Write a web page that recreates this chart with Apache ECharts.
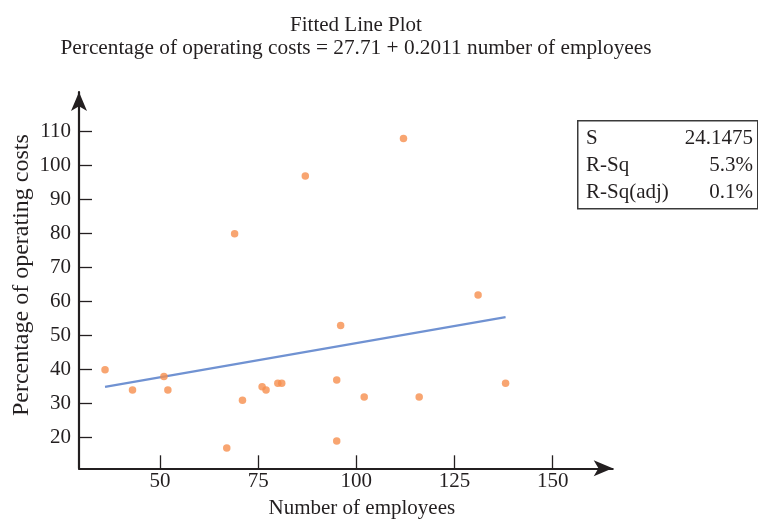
<!DOCTYPE html>
<html>
<head>
<meta charset="utf-8">
<script src="https://cdn.jsdelivr.net/npm/echarts@6/dist/echarts.min.js"></script>
<style>html,body{margin:0;padding:0;background:#fff}#c{width:758px;height:521px}</style>
</head>
<body>
<div id="c"></div>
<script>
// Data
const employees = [36, 43, 51, 52, 67, 71, 76, 77, 80, 81, 95, 95, 96, 102, 69, 87, 112, 131, 116, 138];
const operatingCosts = [40, 34, 38, 34, 17, 31, 35, 34, 36, 36, 37, 19, 53, 32, 80, 97, 108, 62, 32, 36];
const fitX = [36, 138];
const fitY = [34.95, 55.46];
const xTicks = [50, 75, 100, 125, 150];
const yTicks = [20, 30, 40, 50, 60, 70, 80, 90, 100, 110];
const statLabels = ['S', 'R-Sq', 'R-Sq(adj)'];
const statValues = ['24.1475', '5.3%', '0.1%'];
const titleText = 'Fitted Line Plot';
const subtitleText = 'Percentage of operating costs = 27.71 + 0.2011 number of employees';

const FONT = '"Liberation Serif", "Times New Roman", serif';
const INK = '#231f20';

const points = employees.map((x, i) => [x, operatingCosts[i]]);
const fitLine = fitX.map((x, i) => [x, fitY[i]]);

const chart = echarts.init(document.getElementById('c'), null, {renderer: 'canvas'});

const statGraphics = [{
  type: 'rect', left: 577, top: 120,
  shape: {width: 180, height: 88},
  style: {fill: '#fff', stroke: '#3a3a3a', lineWidth: 1.5}
}];
statLabels.forEach((t, i) => {
  statGraphics.push({type: 'text', left: 586, top: 128 + i * 27,
    style: {text: t, font: '21px ' + FONT, fill: INK}});
  statGraphics.push({type: 'text', right: 5, top: 128 + i * 27,
    style: {text: statValues[i], font: '21px ' + FONT, fill: INK, align: 'right'}});
});

chart.setOption({
  animation: false,
  backgroundColor: '#fff',
  title: [
    {text: titleText, left: 351, top: 10, textAlign: 'center',
     textStyle: {fontFamily: FONT, fontSize: 21, fontWeight: 'normal', color: INK}},
    {text: subtitleText, left: 351, top: 33, textAlign: 'center',
     textStyle: {fontFamily: FONT, fontSize: 21.3, fontWeight: 'normal', color: INK}}
  ],
  grid: {left: 79, right: 145.3, top: 92, bottom: 52.7, containLabel: false, outerBoundsMode: 'none'},
  xAxis: {
    type: 'value', min: 29.37, max: 165.28,
    name: 'Number of employees', nameLocation: 'middle', nameGap: 30, nameMoveOverlap: false,
    nameTextStyle: {fontFamily: FONT, fontSize: 21, color: INK, padding: [0, 0, 0, 32]},
    axisLine: {show: true, onZero: false, symbol: ['none', 'arrow'], symbolSize: [12, 19],
      lineStyle: {color: INK, width: 2.2}},
    axisTick: {show: true, inside: true, length: 13, customValues: xTicks,
      lineStyle: {color: INK, width: 1.3}},
    axisLabel: {customValues: xTicks, margin: 3, fontFamily: FONT, fontSize: 21, color: INK},
    splitLine: {show: false}
  },
  yAxis: {
    type: 'value', min: 11.0, max: 121.68,
    name: 'Percentage of operating costs', nameLocation: 'middle', nameGap: 45, nameMoveOverlap: false,
    nameTextStyle: {fontFamily: FONT, fontSize: 24, color: INK, padding: [0, 0, 0, 10]},
    axisLine: {show: true, onZero: false, symbol: ['none', 'arrow'], symbolSize: [12, 19],
      lineStyle: {color: INK, width: 2.2}},
    axisTick: {show: true, inside: true, length: 13, customValues: yTicks,
      lineStyle: {color: INK, width: 1.3}},
    axisLabel: {customValues: yTicks, margin: 8, fontFamily: FONT, fontSize: 21, color: INK},
    splitLine: {show: false}
  },
  series: [
    {type: 'line', data: fitLine, symbol: 'none', silent: true,
     lineStyle: {color: '#7092d2', width: 2.2}, z: 2},
    {type: 'scatter', data: points, symbol: 'circle', symbolSize: 7.5,
     itemStyle: {color: '#f68f4d'}, z: 3}
  ],
  graphic: statGraphics
});
</script>
</body>
</html>
